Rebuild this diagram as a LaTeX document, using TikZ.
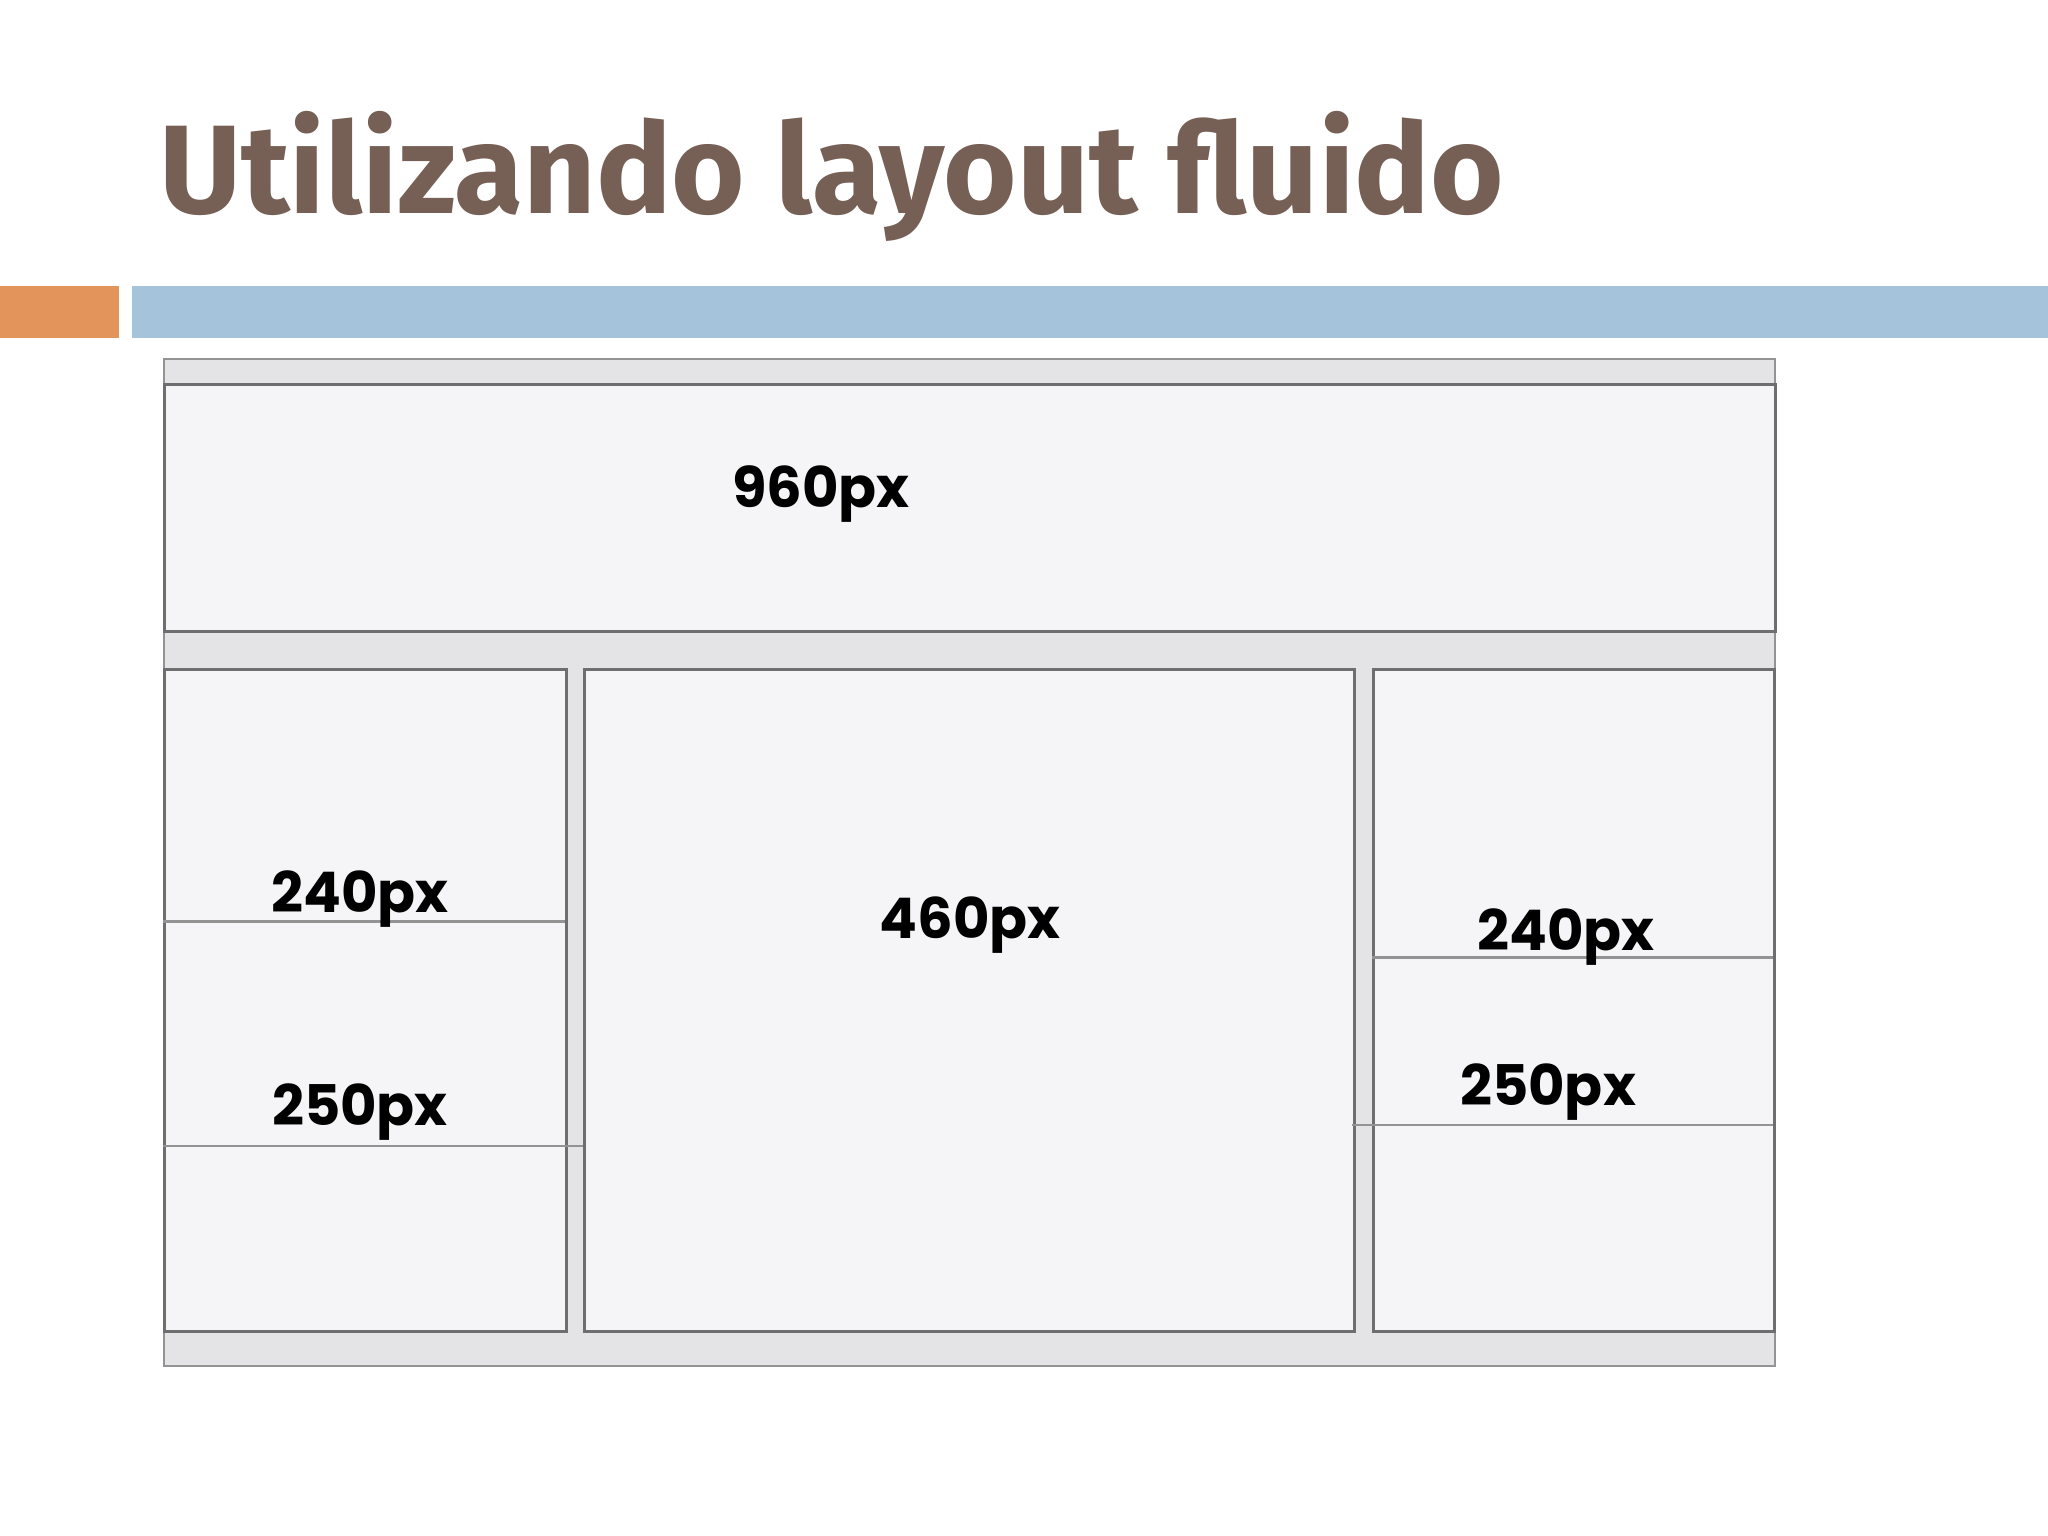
\documentclass[tikz,border=0pt]{standalone}
\usepackage{fontspec}
\setmainfont{Fira Sans}
\newfontfamily\labelfont{Poppins}
\definecolor{titlebrown}{HTML}{765F55}
\definecolor{accentorange}{HTML}{E3945A}
\definecolor{accentblue}{HTML}{A5C3DA}
\definecolor{framegray}{HTML}{E4E3E6}
\definecolor{panelgray}{HTML}{F5F4F7}
\definecolor{edgegray}{HTML}{6E6E6E}
\definecolor{linegray}{HTML}{939393}

\begin{document}
\begin{tikzpicture}[x=1pt, y=-1pt,
    panel/.style={draw=edgegray, fill=panelgray, line width=3pt,
                  anchor=north west, inner sep=0pt},
    divider/.style={draw=linegray, line width=3pt},
    sizelabel/.style={anchor=base, inner sep=0pt,
                      font=\labelfont\bfseries\fontsize{56}{60}\selectfont}]
        \useasboundingbox[fill=white] (0,0) rectangle (2048,1536);

        % Title and the two bars
        \node[anchor=base west, inner sep=0pt, text=titlebrown,
              font=\bfseries\fontsize{126}{130}\selectfont] (title) at (159,213)
              {Utilizando layout fluido};
        \fill[accentorange] (0,286) rectangle (119,338);
        \fill[accentblue] (132,286) rectangle (2048,338);

        % Page frame
        \node[draw=gray!85, fill=framegray, line width=2pt, anchor=north west,
              inner sep=0pt, minimum width=1611pt, minimum height=1007pt]
              (page) at (163,358) {};

        % The four boxes
        \node[panel, minimum width=1611pt, minimum height=247pt]  (header)   at (163,383)  {};
        \node[panel, minimum width=402pt,  minimum height=662pt]  (leftcol)  at (163,668)  {};
        \node[panel, minimum width=770pt,  minimum height=662pt]  (midcol)   at (583,668)  {};
        \node[panel, minimum width=401pt,  minimum height=662pt]  (rightcol) at (1372,668) {};

        % Lines inside the side columns
        \draw[divider] (163,921) -- (565,921);
        \draw[divider, line width=2pt] (163,1146) -- (583,1146);
        \draw[divider] (1372,957) -- (1773,957);
        \draw[divider, line width=2pt] (1352,1125) -- (1773,1125);

        % Sizes
        \node[sizelabel] (wheader) at (821,507)  {960px};
        \node[sizelabel] (wmid)    at (970,938)  {460px};
        \node[sizelabel] (wlefta)  at (360,912)  {240px};
        \node[sizelabel] (wleftb)  at (360,1125) {250px};
        \node[sizelabel] (wrighta) at (1566,950) {240px};
        \node[sizelabel] (wrightb) at (1548,1105) {250px};
    \end{tikzpicture}
\end{document}
